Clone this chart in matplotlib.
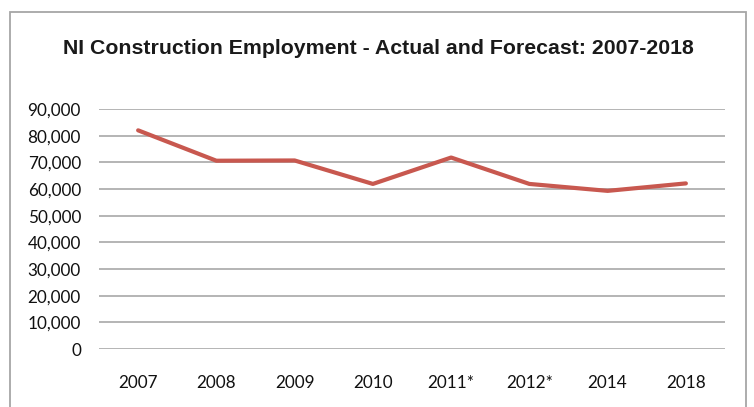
import matplotlib
matplotlib.use('Agg')
import matplotlib.pyplot as plt
from matplotlib.patches import Rectangle
from matplotlib.ticker import FuncFormatter

years = ['2007', '2008', '2009', '2010', '2011*', '2012*', '2014', '2018']
employment = [82000, 70600, 70700, 61900, 71800, 61900, 59300, 62100]
y_ticks = [0, 10000, 20000, 30000, 40000, 50000, 60000, 70000, 80000, 90000]

W, H = 754, 407
fig = plt.figure(figsize=(W / 100, H / 100), dpi=100)
fig.patch.set_facecolor('white')

# outer chart frame (runs off the bottom of the picture)
fig.patches.append(Rectangle((10 / W, -0.1), 736 / W, (H - 12) / H + 0.1,
                             transform=fig.transFigure, fill=False,
                             edgecolor='#a6a6a6', linewidth=1.3))

ax = fig.add_axes([99 / W, (H - 349) / H, (725 - 99) / W, 240 / H])
x = list(range(len(years)))
ax.plot(x, employment, color='#c8584f', linewidth=3.0, solid_capstyle='round',
        solid_joinstyle='round', zorder=3)

ax.set_xlim(-0.5, len(years) - 0.5)
ax.set_ylim(0, 90000)
ax.set_yticks(y_ticks)
ax.yaxis.set_major_formatter(FuncFormatter(lambda v, p: f'{int(v):,}'))
ax.set_xticks(x)
ax.set_xticklabels(years)
ax.grid(axis='y', color='#a0a0a0', linewidth=1.1, zorder=1)
ax.set_axisbelow(True)
for s in ax.spines.values():
    s.set_visible(False)
ax.tick_params(length=0, labelsize=12.3, colors='#111111')
ax.tick_params(axis='y', pad=13)
ax.tick_params(axis='x', pad=19)
for lab in ax.get_xticklabels() + ax.get_yticklabels():
    lab.set_fontfamily('Lato')

fig.text(378 / W, 1 - 49 / H, 'NI Construction Employment - Actual and Forecast: 2007-2018',
         ha='center', va='center', fontsize=15.3, fontweight='bold',
         family='Liberation Sans', color='#1a1a1a')

fig.savefig('out.png', dpi=100)
